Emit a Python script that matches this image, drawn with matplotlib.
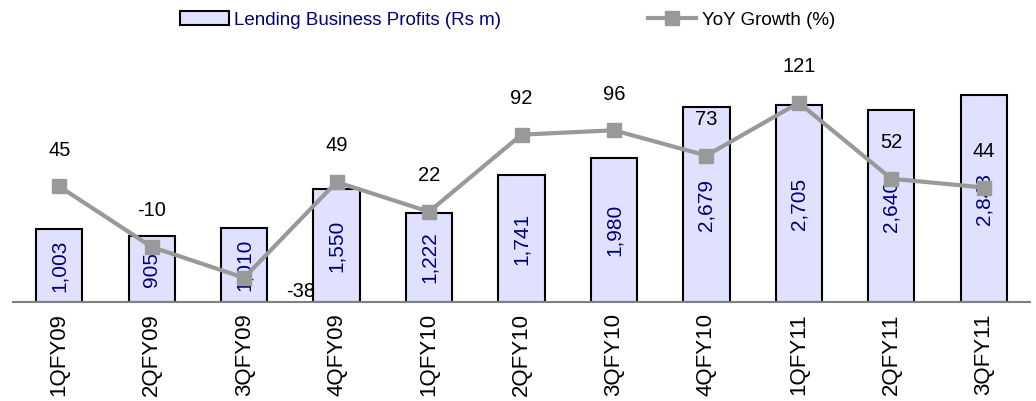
import matplotlib.pyplot as plt

quarters = ['1QFY09', '2QFY09', '3QFY09', '4QFY09', '1QFY10', '2QFY10',
            '3QFY10', '4QFY10', '1QFY11', '2QFY11', '3QFY11']
profits = [1003, 905, 1010, 1550, 1222, 1741, 1980, 2679, 2705, 2640, 2843]
growth = [45, -10, -38, 49, 22, 92, 96, 73, 121, 52, 44]

plt.rcParams['font.family'] = ['Liberation Sans', 'DejaVu Sans']

fig = plt.figure(figsize=(10.36, 4.01), dpi=100)
ax = fig.add_axes([13/1036, 99/401, 1017/1036, 262/401])
x = list(range(len(quarters)))

bars = ax.bar(x, profits, width=0.5, color='#E0E0FF', edgecolor='black',
              linewidth=1.5, label='Lending Business Profits (Rs m)', zorder=2)
for xi, v in zip(x, profits):
    ax.text(xi, v / 2, f'{v:,}', rotation=90, ha='center', va='center',
            color='#000080', fontsize=15, zorder=3)

ax.set_xlim(-0.5, len(quarters) - 0.5)
ax.set_ylim(0, 3600)
ax.set_yticks([])
ax.set_xticks(x)
ax.set_xticklabels(quarters, rotation=90, fontsize=16)
ax.tick_params(axis='x', length=0, pad=8)
for s in ['top', 'right', 'left']:
    ax.spines[s].set_visible(False)
ax.spines['bottom'].set_color('#808080')
ax.spines['bottom'].set_linewidth(1.5)

ax2 = ax.twinx()
ax2.plot(x, growth, color='#999999', lw=3, marker='s', markersize=10,
         label='YoY Growth (%)', zorder=4)
ax2.set_ylim(-60, 178)
ax2.set_yticks([])
for s in ['top', 'right', 'left', 'bottom']:
    ax2.spines[s].set_visible(False)
for xi, g in zip(x, growth):
    if g == -38:
        ax2.annotate(str(g), (xi, g), xytext=(41, -10), textcoords='offset points',
                     ha='center', va='center', fontsize=14.5)
    else:
        ax2.annotate(str(g), (xi, g), xytext=(0, 26), textcoords='offset points',
                     ha='center', va='center', fontsize=14.5)

h1, l1 = ax.get_legend_handles_labels()
h2, l2 = ax2.get_legend_handles_labels()
leg = fig.legend(h1 + h2, l1 + l2, loc='center', bbox_to_anchor=(0.49, 0.95),
                 ncol=2, frameon=False, fontsize=13.5, handlelength=2.6,
                 handletextpad=0.3, columnspacing=7.8)
leg.get_texts()[0].set_color('#000080')

fig.savefig('out.png', dpi=100)
